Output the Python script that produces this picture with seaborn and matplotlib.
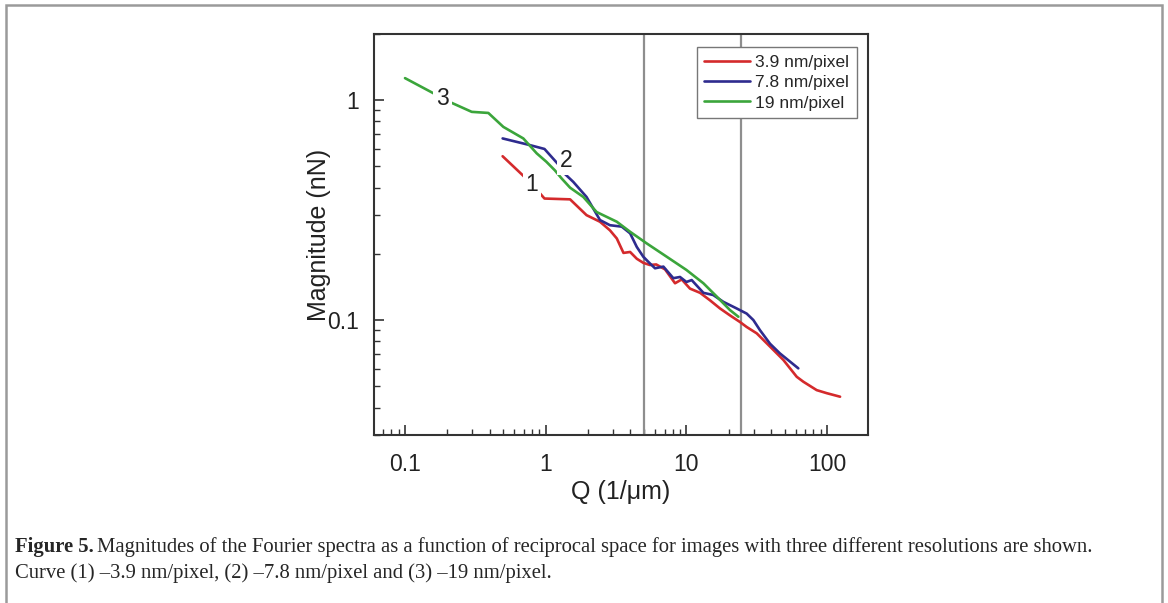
import numpy as np
import pandas as pd
import matplotlib
matplotlib.use('Agg')
import matplotlib.pyplot as plt
import matplotlib.patches as patches
from matplotlib.lines import Line2D
import seaborn as sns

# curve (1) 3.9 nm/pixel
q1 = [0.494, 0.693, 0.90, 0.98, 1.49, 1.95, 2.43, 2.86, 3.2, 3.57, 3.98, 4.44, 4.94,
      5.5, 6.1, 7.05, 8.3, 9.26, 10.6, 12.5, 14.7, 17.3, 20.4, 24.0, 26.8, 31.6,
      39.3, 48.9, 60.8, 67.8, 84.3, 99.3, 123.6]
m1 = [0.556, 0.453, 0.38, 0.357, 0.354, 0.30, 0.28, 0.256, 0.235, 0.202, 0.204, 0.19, 0.182,
      0.178, 0.179, 0.170, 0.147, 0.153, 0.139, 0.133, 0.123, 0.113, 0.105, 0.098, 0.093, 0.087,
      0.0757, 0.0658, 0.0552, 0.0524, 0.048, 0.0465, 0.0448]
# curve (2) 7.8 nm/pixel
q2 = [0.494, 0.77, 0.98, 1.23, 1.33, 1.57, 1.95, 2.43, 2.86, 3.47, 3.98, 4.44, 4.94, 5.5,
      5.98, 6.86, 8.07, 9.0, 10.0, 10.9, 13.2, 15.5, 18.3, 22.7, 26.8, 29.9, 33.3, 39.3,
      46.2, 54.5, 62.4]
m2 = [0.67, 0.625, 0.60, 0.51, 0.47, 0.425, 0.363, 0.285, 0.27, 0.266, 0.248, 0.215, 0.194, 0.181,
      0.172, 0.175, 0.155, 0.157, 0.149, 0.152, 0.133, 0.130, 0.121, 0.113, 0.107, 0.100, 0.090, 0.078,
      0.0705, 0.0647, 0.0603]
# curve (3) 19 nm/pixel
q3 = [0.1, 0.209, 0.298, 0.391, 0.5, 0.693, 0.863, 1.01, 1.16, 1.30, 1.49, 1.85, 2.30, 3.2,
      3.98, 5.23, 7.25, 10.0, 13.2, 16.4, 20.4, 23.4]
m3 = [1.26, 0.98, 0.885, 0.875, 0.756, 0.67, 0.573, 0.525, 0.48, 0.44, 0.40, 0.363, 0.31, 0.28,
      0.252, 0.223, 0.194, 0.169, 0.147, 0.128, 0.111, 0.1035]

labels = ['3.9 nm/pixel', '7.8 nm/pixel', '19 nm/pixel']
colors = ['#d42a2c', '#2e2b8e', '#3ba53b']
vlines = [5, 24.5]

df = pd.concat([
    pd.DataFrame({'Q': q1, 'M': m1, 'res': labels[0]}),
    pd.DataFrame({'Q': q2, 'M': m2, 'res': labels[1]}),
    pd.DataFrame({'Q': q3, 'M': m3, 'res': labels[2]}),
])

sns.set_style('ticks')
plt.rcParams['font.family'] = ['Liberation Sans', 'DejaVu Sans']

fig = plt.figure(figsize=(11.68, 6.03), dpi=100)
ax = fig.add_axes([0.3202, 0.2786, 0.4229, 0.665])

for v in vlines:
    ax.axvline(v, color='#8e8e8e', lw=1.6, zorder=1)

sns.lineplot(data=df, x='Q', y='M', hue='res', palette=colors, estimator=None,
             sort=False, lw=1.9, ax=ax, legend=False, zorder=2)

ax.set_xscale('log')
ax.set_yscale('log')
ax.set_xlim(0.0602, 195)
ax.set_ylim(0.030, 2.0)
ax.set_xticks([0.1, 1, 10, 100])
ax.set_xticklabels(['0.1', '1', '10', '100'])
ax.set_yticks([0.1, 1])
ax.set_yticklabels(['0.1', '1'])
ax.tick_params(which='major', direction='in', length=7, width=1.2, labelsize=16.5,
               colors='#333333', labelcolor='#222222')
ax.tick_params(which='minor', direction='in', length=4, width=1.0, colors='#333333')
ax.tick_params(axis='x', which='both', pad=13)
ax.tick_params(axis='y', which='both', pad=11)
for s in ax.spines.values():
    s.set_linewidth(1.5)
    s.set_color('#333333')

ax.set_xlabel('Q (1/\u03bcm)', fontsize=18, labelpad=3, color='#222222')
ax.set_ylabel('Magnitude (nN)', fontsize=18, labelpad=-3, color='#222222')

# curve number labels sitting in line gaps
for txt, x, y in [('3', 0.185, 1.02), ('2', 1.39, 0.53), ('1', 0.795, 0.415)]:
    ax.text(x, y, txt, fontsize=16.5, ha='center', va='center', color='#222222', zorder=5,
            bbox=dict(boxstyle='square,pad=0.12', fc='white', ec='none'))

handles = [Line2D([0], [0], color=c, lw=1.9) for c in colors]
leg = ax.legend(handles, labels, loc='upper right', bbox_to_anchor=(0.977, 0.968),
                borderaxespad=0, fontsize=12.5, frameon=True, fancybox=False,
                handlelength=2.6, handletextpad=0.3, labelspacing=0.3, borderpad=0.45)
leg.get_frame().set_edgecolor('#777777')
leg.get_frame().set_linewidth(1.0)
leg.get_frame().set_alpha(1)

# outer frame of the figure panel
fig.patches.append(patches.Rectangle((6 / 1168, -0.05), 1156 / 1168, 1 - 5 / 603 + 0.05,
                                     transform=fig.transFigure, fill=False,
                                     ec='#9a9a9a', lw=1.8))

# caption
cap_fs = 14.9
renderer = fig.canvas.get_renderer()
t_bold = fig.text(15 / 1168, 1 - 547 / 603, 'Figure 5.', fontsize=cap_fs, va='center',
                  family='Liberation Serif', fontweight='bold')
bb = t_bold.get_window_extent(renderer)
fig.text((bb.x1 + 3) / 1168, 1 - 547 / 603,
         'Magnitudes of the Fourier spectra as a function of reciprocal space for images with three different resolutions are shown.',
         fontsize=cap_fs, va='center', family='Liberation Serif')
fig.text(15 / 1168, 1 - 573 / 603,
         'Curve (1) \u20133.9 nm/pixel, (2) \u20137.8 nm/pixel and (3) \u201319 nm/pixel.',
         fontsize=cap_fs, va='center', family='Liberation Serif')

fig.savefig('out.png', dpi=100)
